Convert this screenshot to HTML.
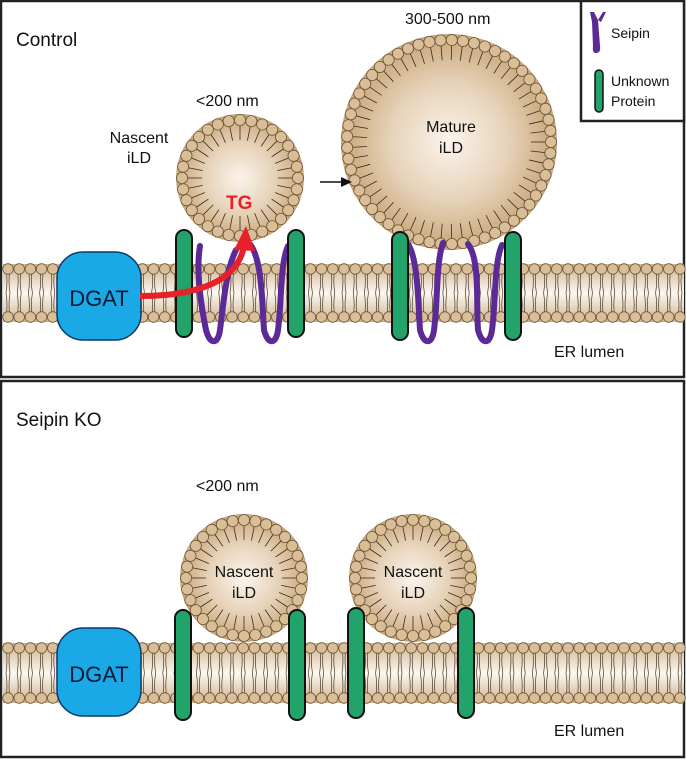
<!DOCTYPE html>
<html><head><meta charset="utf-8"><style>
body{margin:0;background:#fff}
svg{display:block;font-family:"Liberation Sans",Arial,sans-serif}
</style></head><body>
<svg id="s" width="686" height="759" viewBox="0 0 686 759" xmlns="http://www.w3.org/2000/svg">
<defs>
<linearGradient id="mem" x1="0" y1="0" x2="0" y2="1">
<stop offset="0" stop-color="#cfb38c"/><stop offset="0.5" stop-color="#fbf7f1"/><stop offset="1" stop-color="#cfb38c"/>
</linearGradient>
<radialGradient id="ld" cx="0.5" cy="0.5" r="0.5">
<stop offset="0" stop-color="#fbf4ec"/><stop offset="0.55" stop-color="#e6d2b8"/><stop offset="0.85" stop-color="#d2b48c"/><stop offset="1" stop-color="#c7a679"/>
</radialGradient>
</defs>
<rect x="1" y="1" width="683" height="376" fill="#fff" stroke="#222" stroke-width="2.5"/>
<rect x="1" y="381" width="683" height="376" fill="#fff" stroke="#222" stroke-width="2.5"/>
<g id="g"></g>
</svg>
<script>
const NS="http://www.w3.org/2000/svg",g=document.getElementById('g');
function el(t,a,txt){const e=document.createElementNS(NS,t);for(const k in a)e.setAttribute(k,a[k]);if(txt)e.textContent=txt;g.appendChild(e);return e;}
function membrane(yt,yb){
 el('rect',{x:3,y:yt,width:681,height:yb-yt,fill:'url(#mem)'});
 for(let x=8;x<684;x+=11.2){
  el('path',{d:`M${x-2} ${yt+5} q2 12 0 ${(yb-yt)/2-5} M${x+2} ${yt+5} q-2 12 0 ${(yb-yt)/2-5} M${x-2} ${yb-5} q2 -12 0 ${-((yb-yt)/2-5)} M${x+2} ${yb-5} q-2 -12 0 ${-((yb-yt)/2-5)}`,stroke:'#4a3a2a','stroke-width':0.7,fill:'none'});
 }
 for(let x=8;x<684;x+=11.2){
  el('circle',{cx:x,cy:yt+5,r:5.3,fill:'#d9be98',stroke:'#6b5438','stroke-width':0.8});
  el('circle',{cx:x,cy:yb-5,r:5.3,fill:'#d9be98',stroke:'#6b5438','stroke-width':0.8});
 }
}
function droplet(cx,cy,R){
 el('circle',{cx,cy,r:R,fill:'url(#ld)'});
 const n=Math.round(2*Math.PI*(R-6)/11.3),hr=5.6;
 for(let i=0;i<n;i++){const a=i/n*2*Math.PI,c=Math.cos(a),s=Math.sin(a);
  el('line',{x1:cx+c*(R-10),y1:cy+s*(R-10),x2:cx+c*(R-26),y2:cy+s*(R-26),stroke:'#3a2c20','stroke-width':0.8});}
 for(let i=0;i<n;i++){const a=i/n*2*Math.PI;
  el('circle',{cx:cx+Math.cos(a)*(R-6),cy:cy+Math.sin(a)*(R-6),r:hr,fill:'#d9be98',stroke:'#6b5438','stroke-width':0.8});}
}
function prot(x,y1,y2){el('rect',{x,y:y1,width:16,height:y2-y1,rx:8,fill:'#22a36a',stroke:'#111','stroke-width':2});}
function dgat(y){el('rect',{x:57,y,width:84,height:88,rx:26,fill:'#1aa9e6',stroke:'#0a3a66','stroke-width':1.5});
 el('text',{x:99,y:y+54,'font-size':22,'text-anchor':'middle',fill:'#0a1a33'},'DGAT');}
function loop(d){el('path',{d,stroke:'#5b2a96','stroke-width':6,fill:'none','stroke-linecap':'round'});}
function txt(x,y,s,t,a,c,w){el('text',{x,y,'font-size':s,'text-anchor':a||'start',fill:c||'#111','font-weight':w||'normal'},t);}

membrane(264,322);
membrane(643,703);
droplet(240,178,64);
droplet(449,142,108);
droplet(244,578,64);
droplet(413,578,64);
loop('M200 246 C196 270 200 300 206 330 C210 345 218 345 220 330 C224 300 226 270 236 250');
loop('M250 244 C262 260 262 300 264 330 C268 345 276 345 278 330 C282 300 280 264 288 246');
loop('M408 244 C418 260 418 300 420 330 C424 345 432 345 434 330 C438 300 436 262 443 243');
loop('M468 244 C480 260 476 300 478 330 C482 345 490 345 492 330 C496 300 494 262 502 245');
prot(176,230,337);prot(288,230,337);prot(392,232,340);prot(505,232,340);
prot(175,610,720);prot(289,610,720);prot(348,608,718);prot(458,608,718);
dgat(252);dgat(628);
el('path',{d:'M140 296 C200 296 238 280 244 246',stroke:'#e8202a','stroke-width':6,fill:'none'});
el('path',{d:'M234 250 L246 226 L255 251 Z',fill:'#e8202a'});
txt(226,209,19,'TG','start','#e8202a','bold');
el('line',{x1:320,y1:182,x2:344,y2:182,stroke:'#111','stroke-width':1.5});
el('path',{d:'M341 177 L352 182 L341 187 Z',fill:'#111'});
txt(16,46,19,'Control');txt(16,426,19,'Seipin KO');
txt(196,106,16,'<200 nm');txt(196,491,16,'<200 nm');
txt(405,24,16,'300-500 nm');
txt(139,143,16,'Nascent','middle');txt(139,163,16,'iLD','middle');
txt(451,132,16,'Mature','middle');txt(451,153,16,'iLD','middle');
txt(244,577,16,'Nascent','middle');txt(244,598,16,'iLD','middle');
txt(413,577,16,'Nascent','middle');txt(413,598,16,'iLD','middle');
txt(554,357,16,'ER lumen');txt(554,736,16,'ER lumen');
el('rect',{x:581,y:1,width:103,height:120,fill:'#fff',stroke:'#222','stroke-width':2.5});
el('path',{d:'M594 12 L598 20 L600 46 Q601 53 596 53 Q592 53 593 46 L592 22 L590 12 L594 12 Z M598 20 L603 12 L606 12 L601 22 Z',fill:'#5b2a96'});
txt(611,38,14,'Seipin');
el('rect',{x:595,y:70,width:8,height:42,rx:4,fill:'#22a36a',stroke:'#111','stroke-width':1.5});
txt(611,86,14,'Unknown');txt(611,106,14,'Protein');
</script>
</body></html>
